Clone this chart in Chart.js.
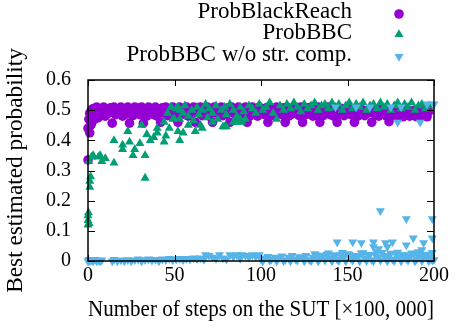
<!DOCTYPE html>
<html>
<head>
<meta charset="utf-8">
<script src="https://cdn.jsdelivr.net/npm/chart.js@4.4.1/dist/chart.umd.min.js"></script>
<style>
  html, body { margin: 0; padding: 0; background: #fff; }
  #chart { display: block; }
</style>
</head>
<body>
<canvas id="chart" width="456" height="330"></canvas>
<script>
var seriesNames = ['ProbBlackReach', 'ProbBBC', 'ProbBBC w/o str. comp.'];
var xTickValues = [0, 50, 100, 150, 200];
var yTickValues = [0, 0.1, 0.2, 0.3, 0.4, 0.5, 0.6];

// ProbBlackReach
var reachX = [0, 0, 0.5, 1, 1, 1.5, 2, 2, 3, 3, 4, 4,
  5, 7, 9, 11, 13, 15, 17, 19, 21, 23, 25, 27, 29, 31, 33, 35, 37, 39,
  41, 43, 45, 47, 49, 51, 53, 55, 57, 59, 61, 63, 65, 67, 69, 71, 73, 75, 77, 79,
  81, 83, 85, 87, 89, 91, 93, 95, 97, 99, 101, 103, 105, 107, 109, 111, 113, 115, 117, 119,
  121, 123, 125, 127, 129, 131, 133, 135, 137, 139, 141, 143, 145, 147, 149, 151, 153, 155, 157, 159,
  161, 163, 165, 167, 169, 171, 173, 175, 177, 179, 181, 183, 185, 187, 189, 191, 193, 195, 197,
  6, 8, 10, 12, 14, 16, 18, 20, 22, 24, 26, 28, 30, 32, 34, 36, 38, 40,
  42, 44, 46, 48, 50, 52, 54, 56, 58, 60, 62, 64, 66, 68, 70, 72, 74, 76, 78, 80,
  82, 84, 86, 88, 90, 92, 94, 96, 98, 100, 102, 104, 106, 108, 110, 112, 114, 116, 118, 120,
  122, 124, 126, 128, 130, 132, 134, 136, 138, 140, 142, 144, 146, 148, 150, 152, 154, 156, 158, 160,
  162, 164, 166, 168, 170, 172, 174, 176, 178, 180, 182, 184, 186, 188, 190, 192, 194, 196];
var reachY = [0.335, 0.44, 0.47, 0.425, 0.49, 0.45, 0.5, 0.455, 0.505, 0.48, 0.47, 0.505,
  0.51, 0.505, 0.51, 0.5, 0.508, 0.51, 0.503, 0.51, 0.505, 0.51, 0.5, 0.51, 0.507, 0.51, 0.503, 0.51, 0.505, 0.51,
  0.5, 0.508, 0.51, 0.505, 0.51, 0.5, 0.51, 0.505, 0.51, 0.503, 0.51, 0.507, 0.51, 0.5, 0.51, 0.505, 0.51, 0.503, 0.51, 0.505,
  0.508, 0.51, 0.5, 0.51, 0.505, 0.51, 0.503, 0.51, 0.505, 0.51, 0.5, 0.508, 0.51, 0.505, 0.51, 0.5, 0.508, 0.51, 0.503, 0.51,
  0.505, 0.51, 0.5, 0.508, 0.51, 0.505, 0.51, 0.5, 0.507, 0.51, 0.503, 0.505, 0.5, 0.505, 0.498, 0.503, 0.5, 0.498, 0.503, 0.5,
  0.498, 0.503, 0.5, 0.497, 0.502, 0.5, 0.497, 0.5, 0.498, 0.502, 0.5, 0.497, 0.5, 0.498, 0.5, 0.497, 0.5, 0.498, 0.495,
  0.475, 0.485, 0.48, 0.49, 0.457, 0.485, 0.49, 0.48, 0.487, 0.457, 0.482, 0.49, 0.485, 0.457, 0.48, 0.49, 0.485, 0.48,
  0.46, 0.49, 0.482, 0.487, 0.48, 0.46, 0.49, 0.485, 0.48, 0.487, 0.46, 0.49, 0.482, 0.487, 0.48, 0.46, 0.49, 0.485, 0.482, 0.487,
  0.46, 0.49, 0.48, 0.485, 0.49, 0.46, 0.482, 0.487, 0.48, 0.49, 0.485, 0.46, 0.487, 0.48, 0.49, 0.485, 0.46, 0.48, 0.487, 0.49,
  0.482, 0.46, 0.485, 0.49, 0.48, 0.487, 0.46, 0.482, 0.49, 0.485, 0.48, 0.46, 0.487, 0.482, 0.49, 0.485, 0.46, 0.48, 0.487, 0.482,
  0.49, 0.46, 0.485, 0.48, 0.487, 0.482, 0.462, 0.485, 0.48, 0.483, 0.478, 0.485, 0.48, 0.483, 0.478, 0.484, 0.48, 0.478];

// ProbBBC
var bbcX = [0, 0, 0, 0.3, 0.6, 1, 1, 1.5, 0.5, 2, 3, 6, 7, 8, 10, 15, 15, 20, 20, 23,
  24, 26, 27, 30, 31, 33, 33, 34, 36, 38, 40, 40, 44, 44, 45, 47, 48, 50, 52, 52,
  53, 53, 55, 58, 62, 65, 66, 72, 78, 80, 84, 89, 79, 86, 88,
  46, 48, 49, 51, 53, 55, 56, 58, 60, 61, 63, 64, 66, 68, 69, 70, 72, 74, 75, 77,
  79, 80, 82, 84, 86, 88, 90, 91, 93, 95, 97, 99, 101, 103, 105, 107, 109, 111, 113, 115,
  117, 119, 121, 123, 125, 127, 129, 131, 133, 135, 137, 139, 141, 143, 145, 147, 149, 151, 153, 155,
  157, 159, 161, 163, 165, 167, 169, 171, 173, 175, 177, 179, 181, 183, 185, 187, 189, 191, 193, 195, 197];
var bbcY = [0.12, 0.135, 0.15, 0.16, 0.125, 0.245, 0.265, 0.28, 0.33, 0.345, 0.35, 0.345, 0.35, 0.33, 0.34, 0.325, 0.4, 0.385, 0.37, 0.43,
  0.395, 0.35, 0.37, 0.39, 0.45, 0.35, 0.275, 0.42, 0.4, 0.41, 0.44, 0.425, 0.395, 0.46, 0.415, 0.44, 0.51, 0.47, 0.43, 0.51,
  0.47, 0.4, 0.425, 0.45, 0.43, 0.45, 0.44, 0.46, 0.445, 0.445, 0.46, 0.46, 0.445, 0.46, 0.47,
  0.49, 0.51, 0.47, 0.505, 0.5, 0.49, 0.515, 0.48, 0.5, 0.465, 0.51, 0.485, 0.5, 0.52, 0.475, 0.505, 0.49, 0.515, 0.47, 0.5,
  0.51, 0.485, 0.52, 0.5, 0.48, 0.51, 0.495, 0.47, 0.515, 0.505, 0.49, 0.52, 0.5, 0.51, 0.525, 0.49, 0.47, 0.515, 0.5, 0.52,
  0.505, 0.525, 0.51, 0.495, 0.52, 0.505, 0.515, 0.525, 0.5, 0.515, 0.52, 0.505, 0.525, 0.51, 0.52, 0.5, 0.515, 0.525, 0.505, 0.52,
  0.51, 0.525, 0.5, 0.515, 0.52, 0.505, 0.525, 0.51, 0.52, 0.5, 0.515, 0.525, 0.505, 0.52, 0.51, 0.525, 0.5, 0.515, 0.52, 0.505, 0.515];

// ProbBBC w/o str. comp.
var noCompX = [0, 0.5, 1, 2, 3, 4, 5, 6, 7, 8,
  14, 15, 17, 19, 21, 23, 25, 27, 29, 31, 33, 35, 37, 39, 41, 43, 45, 47, 49, 51,
  53, 55, 57, 59, 61, 63, 65, 67, 68, 70, 72, 74, 76, 78, 80, 82, 84, 86, 88, 89,
  91, 93, 95, 97, 99, 100, 102, 104, 106, 108, 110, 112, 114, 116, 118, 120, 122, 124, 126, 128,
  130, 132, 134, 136, 138, 140, 142, 144, 146, 148, 150, 152, 154, 156, 158, 160, 162, 164, 166, 168,
  170, 172, 174, 176, 178, 180, 182, 184, 186, 188, 190, 192, 194, 196, 198, 200,
  101, 105, 109, 113, 117, 121, 125, 129, 133, 137, 141, 145, 149, 153, 157, 161, 165, 169, 173, 177,
  181, 185, 189, 193, 197, 199,
  131, 135, 139, 143, 147, 151, 155, 159, 163, 167, 171, 175, 179, 183, 187, 191, 195, 199,
  143, 144, 153, 155, 158, 163, 165, 165, 168, 169, 172, 173, 175, 176, 179, 181, 184, 184, 188, 190,
  192, 193, 194, 196, 199, 199, 200];
var noCompY = [0, 0.005, 0, 0.003, 0, 0.005, 0, 0.002, 0, 0.003,
  0, 0.005, 0, 0.003, 0, 0.004, 0, 0.003, 0.006, 0, 0.004, 0.006, 0.002, 0.005, 0, 0.006, 0.004, 0.008, 0.003, 0.006,
  0.008, 0.004, 0.008, 0.006, 0.01, 0.007, 0.01, 0.005, 0.02, 0.018, 0.012, 0.008, 0.02, 0.01, 0.006, 0.02, 0.015, 0.02, 0.008, 0.02,
  0.018, 0.012, 0.02, 0.015, 0.02, 0.006, 0.01, 0.015, 0.005, 0.012, 0.008, 0.016, 0.004, 0.012, 0.018, 0.006, 0.014, 0.01, 0.018, 0.004,
  0.012, 0.02, 0.008, 0.016, 0.022, 0.01, 0.018, 0.006, 0.02, 0.014, 0.024, 0.008, 0.018, 0.012, 0.026, 0.01, 0.02, 0.004, 0.022, 0.014,
  0.028, 0.01, 0.018, 0.006, 0.022, 0.014, 0.02, 0.008, 0.016, 0.024, 0.006, 0.018, 0.01, 0.02, 0.012, 0.004,
  0, 0.002, 0, 0.001, 0, 0.002, 0, 0.001, 0, 0.002, 0, 0.001, 0, 0.002, 0, 0.001, 0, 0.002, 0, 0.001,
  0, 0.002, 0, 0.001, 0, 0.002,
  0.024, 0.018, 0.026, 0.02, 0.028, 0.022, 0.016, 0.027, 0.021, 0.03, 0.018, 0.025, 0.029, 0.02, 0.026, 0.03, 0.022, 0.028,
  0.51, 0.063, 0.063, 0.51, 0.06, 0.51, 0.063, 0.047, 0.04, 0.166, 0.06, 0.047, 0.51, 0.063, 0.46, 0.51, 0.14, 0.053, 0.076, 0.025,
  0.46, 0.037, 0.06, 0.52, 0.14, 0.076, 0.52];

var colors = ['#9400d3', '#009e73', '#56b4e9'];
var serif = 'Liberation Serif';

function toPoints(xs, ys) {
    return xs.map(function (x, i) { return { x: x, y: ys[i] }; });
}

var markers = [
    { pointStyle: 'circle', radius: 4.8, rotation: 0 },
    { pointStyle: 'triangle', radius: 5.2, rotation: 0 },
    { pointStyle: 'triangle', radius: 5.2, rotation: 180 }
];

// gnuplot style box with inward ticks on all four sides
var frame = {
    id: 'frame',
    afterDatasetsDraw: function (chart) {
        var ctx = chart.ctx;
        var a = chart.chartArea;
        var xs = chart.scales.x, ys = chart.scales.y;
        ctx.save();
        ctx.strokeStyle = '#000';
        ctx.lineWidth = 1.5;
        ctx.strokeRect(a.left, a.top, a.right - a.left, a.bottom - a.top);
        ctx.lineWidth = 1;
        ctx.beginPath();
        xTickValues.forEach(function (v) {
            var px = Math.round(xs.getPixelForValue(v)) + 0.5;
            ctx.moveTo(px, a.bottom); ctx.lineTo(px, a.bottom - 6);
            ctx.moveTo(px, a.top); ctx.lineTo(px, a.top + 6);
        });
        yTickValues.forEach(function (v) {
            var py = Math.round(ys.getPixelForValue(v)) + 0.5;
            ctx.moveTo(a.left, py); ctx.lineTo(a.left + 7, py);
            ctx.moveTo(a.right, py); ctx.lineTo(a.right - 7, py);
        });
        ctx.stroke();
        ctx.restore();
    },
    afterDraw: function (chart) {
        var ctx = chart.ctx;
        var baselines = [17.5, 38.5, 60.5];
        var symbolY = [14, 34.5, 56.5];
        ctx.save();
        ctx.font = '23px "' + serif + '"';
        ctx.textAlign = 'right';
        ctx.textBaseline = 'alphabetic';
        seriesNames.forEach(function (name, i) {
            ctx.fillStyle = '#000';
            ctx.fillText(name, 352, baselines[i]);
            ctx.fillStyle = colors[i];
            Chart.helpers.drawPoint(ctx, {
                pointStyle: markers[i].pointStyle,
                radius: markers[i].radius,
                rotation: markers[i].rotation,
                borderWidth: 0
            }, 399, symbolY[i]);
        });
        ctx.restore();
    }
};

var datasets = [
    { label: seriesNames[0], data: toPoints(reachX, reachY), order: 3 },
    { label: seriesNames[1], data: toPoints(bbcX, bbcY), order: 2 },
    { label: seriesNames[2], data: toPoints(noCompX, noCompY), order: 1 }
].map(function (d, i) {
    d.backgroundColor = colors[i];
    d.borderWidth = 0;
    d.pointStyle = markers[i].pointStyle;
    d.pointRadius = markers[i].radius;
    d.pointRotation = markers[i].rotation;
    d.clip = false;
    return d;
});

new Chart(document.getElementById('chart'), {
    type: 'scatter',
    data: { datasets: datasets },
    plugins: [frame],
    options: {
        responsive: false,
        animation: false,
        devicePixelRatio: 1,
        layout: { padding: { top: 80, right: 22, left: 0, bottom: 0 } },
        plugins: {
            legend: { display: false },
            tooltip: { enabled: false }
        },
        scales: {
            x: {
                type: 'linear',
                min: 0,
                max: 200,
                afterFit: function (s) { s.height = 69; },
                afterBuildTicks: function (s) {
                    s.ticks = xTickValues.map(function (v) { return { value: v }; });
                },
                grid: { display: false, drawTicks: false },
                border: { display: false },
                ticks: {
                    padding: 3,
                    color: '#000',
                    font: { family: serif, size: 20 },
                    maxRotation: 0
                },
                title: {
                    display: true,
                    text: 'Number of steps on the SUT [×100, 000]',
                    color: '#000',
                    font: { family: serif, size: 23.3 },
                    padding: { top: 0, bottom: 6 }
                }
            },
            y: {
                min: 0,
                max: 0.6,
                afterFit: function (s) { s.width = 88; },
                afterBuildTicks: function (s) {
                    s.ticks = yTickValues.map(function (v) { return { value: v }; });
                },
                grid: { display: false, drawTicks: false },
                border: { display: false },
                ticks: {
                    padding: 17,
                    color: '#000',
                    font: { family: serif, size: 20 },
                    callback: function (v) { return String(Math.round(v * 10) / 10); }
                },
                title: {
                    display: true,
                    text: 'Best estimated probability',
                    color: '#000',
                    font: { family: serif, size: 23.3 },
                    padding: { top: 2, bottom: 0 }
                }
            }
        }
    }
});
</script>
</body>
</html>
